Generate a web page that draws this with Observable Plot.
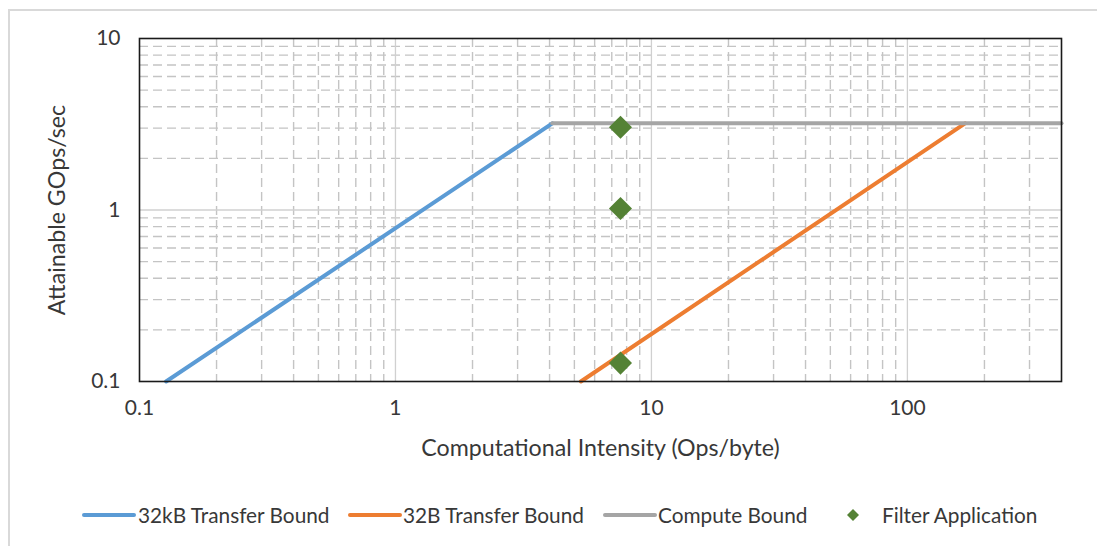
<!DOCTYPE html>
<html>
<head>
<meta charset="utf-8">
<script src="https://cdn.jsdelivr.net/npm/d3@7"></script>
<script src="https://cdn.jsdelivr.net/npm/@observablehq/plot@0.6"></script>
<style>
  html, body { margin: 0; padding: 0; background: #fff; }
  #wrap { position: relative; width: 1097px; height: 546px; overflow: hidden; font-family: Lato, "Open Sans", sans-serif; color: #383838; }
  #border { position: absolute; left: 8px; top: 9px; width: 1200px; height: 600px; border-top: 2px solid #d9d9d9; border-left: 2px solid #d9d9d9; }
  #chart { position: absolute; left: 0; top: 0; }
  .lg-text { position: absolute; font-size: 20.8px; line-height: 22px; white-space: nowrap; color: #383838; }
  .lg-sym { position: absolute; }
</style>
</head>
<body>
<div id="wrap">
  <div id="border"></div>
  <div id="chart"></div>
  <div id="legend"></div>
</div>
<script>
// ---- Data ----
const seriesNames = ["32kB Transfer Bound", "32B Transfer Bound", "Compute Bound", "Filter Application"];
const seriesColors = ["#5B9BD5", "#ED7D31", "#A5A5A5", "#548235"];

// 32kB transfer bound (memory roof)
const bound32kBX = [0.127, 4.1];
const bound32kBY = [0.1, 3.2];
// 32B transfer bound
const bound32BX = [5.3, 168];
const bound32BY = [0.1, 3.2];
// compute bound
const computeX = [4.1, 400];
const computeY = [3.2, 3.2];
// filter application measurements
const filterX = [7.57, 7.57, 7.57];
const filterY = [3.04, 1.02, 0.128];

// axes
const xTicks = [0.1, 1, 10, 100];
const yTicks = [0.1, 1, 10];
const xMajorGrid = [1, 10, 100];
const yMajorGrid = [1];
const xMinorGrid = [0.2,0.3,0.4,0.5,0.6,0.7,0.8,0.9, 2,3,4,5,6,7,8,9, 20,30,40,50,60,70,80,90, 200,300];
const yMinorGrid = [0.2,0.3,0.4,0.5,0.6,0.7,0.8,0.9, 2,3,4,5,6,7,8,9];
const xLabel = "Computational Intensity (Ops/byte)";
const yLabel = "Attainable GOps/sec";

// ---- Build tables ----
const toPts = (xs, ys, name) => xs.map((x, i) => ({x, y: ys[i], series: name}));
const line1 = toPts(bound32kBX, bound32kBY, seriesNames[0]);
const line2 = toPts(bound32BX, bound32BY, seriesNames[1]);
const line3 = toPts(computeX, computeY, seriesNames[2]);
const points = toPts(filterX, filterY, seriesNames[3]);

const lineStyle = {x: "x", y: "y", strokeWidth: 4, strokeLinecap: "round", strokeLinejoin: "round"};
const minorStyle = {stroke: "#c4c4c4", strokeWidth: 1.4, strokeDasharray: "9,5"};
const majorStyle = {stroke: "#d0d0d0", strokeWidth: 1.3};

const chart = Plot.plot({
  width: 1097,
  height: 480,
  marginLeft: 139,
  marginRight: 36,
  marginTop: 38,
  marginBottom: 99,
  style: {fontFamily: "Lato, 'Open Sans', sans-serif", fontSize: "21px", color: "#383838", background: "transparent", overflow: "visible"},
  x: {type: "log", domain: [0.1, 400]},
  y: {type: "log", domain: [0.1, 10]},
  marks: [
    Plot.ruleX(xMinorGrid, minorStyle),
    Plot.ruleY(yMinorGrid, minorStyle),
    Plot.ruleX(xMajorGrid, majorStyle),
    Plot.ruleY(yMajorGrid, majorStyle),
    Plot.line(line1, {...lineStyle, stroke: seriesColors[0]}),
    Plot.line(line2, {...lineStyle, stroke: seriesColors[1]}),
    Plot.line(line3, {...lineStyle, stroke: seriesColors[2]}),
    Plot.dot(points, {x: "x", y: "y", symbol: "diamond2", r: 10.4, fill: seriesColors[3], stroke: "none"}),
    Plot.frame({stroke: "#1a1a1a", strokeWidth: 1.6}),
    Plot.axisX({ticks: xTicks, tickFormat: d => String(d), tickSize: 0, tickPadding: 19, label: null, fontSize: 21}),
    Plot.axisY({ticks: yTicks, tickFormat: d => String(d), tickSize: 0, tickPadding: 19, label: null, fontSize: 21}),
    Plot.text([xLabel], {text: d => d, frameAnchor: "bottom", textAnchor: "middle", lineAnchor: "middle", dy: 67, fontSize: 23.2, fill: "#383838"}),
    Plot.text([yLabel], {text: d => d, frameAnchor: "left", textAnchor: "middle", lineAnchor: "middle", rotate: -90, dx: -82, fontSize: 23.2, fill: "#383838"})
  ]
});
document.getElementById("chart").appendChild(chart);

// ---- Legend (HTML, below the SVG area) ----
const legendLayout = [
  {sym: 82, text: 138, kind: "line"},
  {sym: 348, text: 403, kind: "line"},
  {sym: 603, text: 658, kind: "line"},
  {sym: 847, text: 882, kind: "diamond"}
];
const legendY = 515;
const lg = d3.select("#legend");
seriesNames.forEach((name, i) => {
  const L = legendLayout[i];
  if (L.kind === "line") {
    const s = lg.append("svg").attr("class", "lg-sym").attr("width", 54).attr("height", 8)
      .style("left", L.sym + "px").style("top", (legendY - 4) + "px");
    s.append("line").attr("x1", 2).attr("x2", 52).attr("y1", 4).attr("y2", 4)
      .attr("stroke", seriesColors[i]).attr("stroke-width", 4).attr("stroke-linecap", "round");
  } else {
    const s = lg.append("svg").attr("class", "lg-sym").attr("width", 12).attr("height", 12)
      .style("left", L.sym + "px").style("top", (legendY - 6) + "px");
    s.append("path").attr("d", "M6,0L12,6L6,12L0,6Z").attr("fill", seriesColors[i]);
  }
  lg.append("div").attr("class", "lg-text").style("left", L.text + "px").style("top", (legendY - 11) + "px").text(name);
});
</script>
</body>
</html>
